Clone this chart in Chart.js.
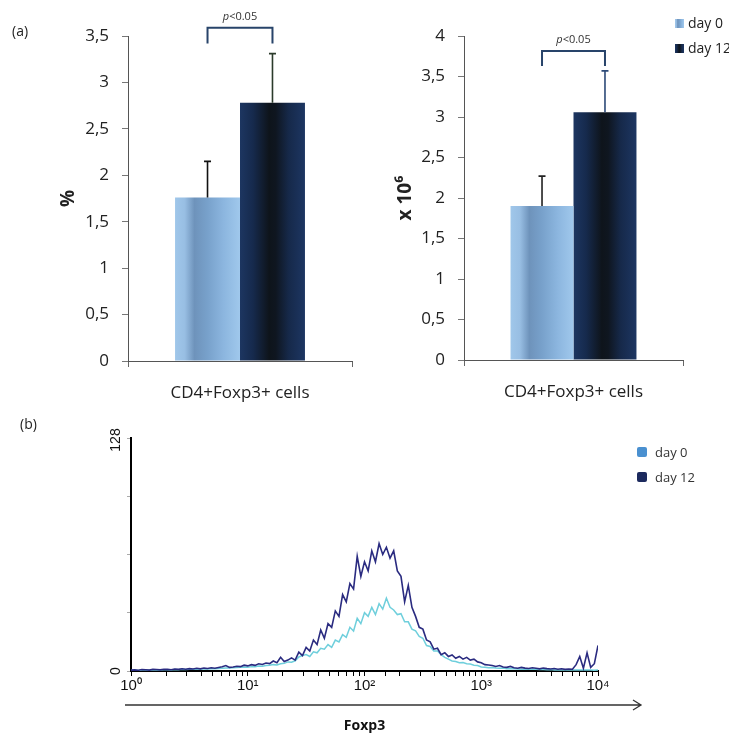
<!DOCTYPE html>
<html>
<head>
<meta charset="utf-8">
<script src="https://cdn.jsdelivr.net/npm/chart.js@4.4.1/dist/chart.umd.min.js"></script>
<style>
  body { margin: 0; background: #fff; }
  #wrap { position: relative; width: 729px; height: 733px; overflow: hidden; background: #fff; }
  canvas { position: absolute; }
</style>
</head>
<body>
<div id="wrap">
  <canvas id="pct" width="360" height="410" style="left:0;top:0"></canvas>
  <canvas id="abs" width="369" height="410" style="left:360px;top:0"></canvas>
  <canvas id="hist" width="729" height="333" style="left:0;top:400px"></canvas>
</div>
<script>
const groups = ["day 0", "day 12"];
const category = ["CD4+Foxp3+ cells"];

// (a) left panel: % Foxp3+ among CD4+
const pctMean = [1.76, 2.78];
const pctErr = [0.39, 0.53];
const pctTickLabels = ["0", "0,5", "1", "1,5", "2", "2,5", "3", "3,5"];
const pctBracket = [3.59, 3.42]; // top, leg end

// (a) right panel: absolute number, x 10^6
const absMean = [1.9, 3.06];
const absErr = [0.37, 0.51];
const absTickLabels = ["0", "0,5", "1", "1,5", "2", "2,5", "3", "3,5", "4"];
const absBracket = [3.815, 3.63];

// (b) Foxp3 histogram, 32 bins per decade from 10^0 to 10^4
const decadeLabels = ["10\u2070", "10\u00b9", "10\u00b2", "10\u00b3", "10\u2074"];
const day12Counts = [
  0.5,0.6,0.4,0.8,0.7,0.5,0.9,0.8,0.6,1.0,0.9,0.7,1.1,0.9,1.2,1.0,
  1.3,1.1,1.5,1.2,1.6,1.4,1.8,1.5,1.9,2.3,3.0,2.0,2.2,2.6,2.4,3.2,
  2.8,3.5,3.1,4.0,3.6,4.4,4.1,5.5,4.6,7.5,5.2,6.0,7.2,6.0,10.4,8.5,
  13,11,17,14.5,22.5,18,26,24,33,30,42,38,48,45,63,52,
  60,55,66,60,70,64,68,62,66,55,52,38,47,35,30,24,
  23,17,16,12,12.5,9,10,8,8.8,7,8,6.5,7.5,6,6.5,5,
  4.5,3.5,3.3,3,2.5,3,2.2,2,2.5,1.8,1.5,2,1.6,1.4,1.8,1.5,
  1.2,1.6,1.3,1.1,1.4,1.0,1.2,0.9,1.1,1.0,3.5,8,1.5,10,2,4,14
];
const day0Counts = [
  0.3,0.4,0.3,0.5,0.5,0.4,0.6,0.6,0.5,0.7,0.7,0.6,0.8,0.7,0.9,0.8,
  1.0,0.9,1.1,1.0,1.2,1.1,1.3,1.2,1.4,1.5,1.7,1.6,1.8,1.9,2.0,2.2,
  2.1,2.4,2.3,2.7,2.6,3.0,3.2,3.5,3.3,4.0,4.2,5.0,4.8,5.6,7.7,8.5,
  9,8,10.5,10,12.5,12,14.5,13,17,16,20,18.5,24,22,29,26,
  32,30,35,31,37,34,40,35,33.5,31,31.5,27,27,23,22,19,
  18,14,13.5,11,11,9,7.5,6.5,5.5,5.2,4.5,4.6,4,3.8,3.2,3,
  2.2,2.0,1.8,1.9,1.6,1.5,1.6,1.3,1.2,1.3,1.1,1.0,1.1,0.9,0.9,1.0,
  0.8,0.8,0.7,0.8,0.6,0.7,0.6,0.6,0.5,0.6,0.5,0.5,0.6,0.5,0.5,0.4,0.5
];

const FONT = "'Open Sans', sans-serif";
Chart.defaults.font.family = FONT;
Chart.defaults.color = "#222";

const lightStops = [[0, "#a0c7ea"], [0.15, "#98bee3"], [0.3, "#6e93bb"], [0.5, "#78a1cb"], [0.75, "#8cb6df"], [1, "#a0c8ec"]];
const darkStops = [[0, "#1d3661"], [0.2, "#162a4d"], [0.45, "#0e141b"], [0.55, "#0f1620"], [0.75, "#16294a"], [1, "#1d3662"]];

function gradient(ctx, left, right, stops) {
  const g = ctx.createLinearGradient(left, 0, right, 0);
  stops.forEach(([o, c]) => g.addColorStop(o, c));
  return g;
}

function barFill(stops, catPct) {
  return (c) => {
    const chart = c.chart;
    const xs = chart.scales.x;
    if (!chart.chartArea || !xs) return stops[2][1];
    const center = xs.getPixelForValue(c.dataIndex);
    const half = (xs.width / category.length) * catPct / 2;
    const left = c.datasetIndex === 0 ? center - half : center;
    return gradient(chart.ctx, left, left + half, stops);
  };
}

function drawPLabel(ctx, cx, y) {
  ctx.save();
  ctx.fillStyle = "#333";
  ctx.textBaseline = "middle";
  ctx.font = "italic 11px " + FONT;
  const wp = ctx.measureText("p").width;
  ctx.font = "11px " + FONT;
  const wr = ctx.measureText("<0.05").width;
  const x0 = cx - (wp + wr) / 2;
  ctx.textAlign = "left";
  ctx.font = "italic 11px " + FONT;
  ctx.fillText("p", x0, y);
  ctx.font = "11px " + FONT;
  ctx.fillText("<0.05", x0 + wp, y);
  ctx.restore();
}

// error bars (upward only) + significance bracket
function barExtras(err, errColors, bracket) {
  return {
    id: "barExtras",
    afterDatasetsDraw(chart) {
      const { ctx, scales: { y } } = chart;
      const centers = [];
      chart.data.datasets.forEach((ds, i) => {
        const el = chart.getDatasetMeta(i).data[0];
        centers.push(el.x);
        const top = y.getPixelForValue(ds.data[0] + err[i]);
        ctx.save();
        ctx.strokeStyle = errColors[i];
        ctx.lineWidth = 1.6;
        ctx.beginPath();
        ctx.moveTo(el.x, el.y);
        ctx.lineTo(el.x, top);
        ctx.moveTo(el.x - 3.5, top);
        ctx.lineTo(el.x + 3.5, top);
        ctx.stroke();
        ctx.restore();
      });
      const bt = y.getPixelForValue(bracket[0]);
      const bb = y.getPixelForValue(bracket[1]);
      ctx.save();
      ctx.strokeStyle = "#28446a";
      ctx.lineWidth = 2;
      ctx.beginPath();
      ctx.moveTo(centers[0], bb);
      ctx.lineTo(centers[0], bt);
      ctx.lineTo(centers[1], bt);
      ctx.lineTo(centers[1], bb);
      ctx.stroke();
      ctx.restore();
      drawPLabel(ctx, (centers[0] + centers[1]) / 2, bt - 11);
    }
  };
}

function barChart(id, o) {
  return new Chart(document.getElementById(id), {
    type: "bar",
    data: {
      labels: category,
      datasets: groups.map((g, i) => ({
        label: g,
        data: [o.mean[i]],
        backgroundColor: barFill(i === 0 ? lightStops : darkStops, o.catPct),
        borderWidth: 0,
        categoryPercentage: o.catPct,
        barPercentage: 1
      }))
    },
    options: {
      responsive: false,
      animation: false,
      devicePixelRatio: 1,
      layout: { padding: { top: 36, right: o.padRight, left: 0, bottom: 0 } },
      plugins: { legend: { display: false }, tooltip: { enabled: false } },
      scales: {
        x: {
          grid: { drawOnChartArea: false, tickLength: 6, color: "#666" },
          border: { color: "#555" },
          ticks: { font: { size: 17 }, color: "#222", padding: 16 },
          afterFit: (s) => { s.height = o.xHeight; }
        },
        y: {
          min: 0,
          max: o.max,
          grid: { drawOnChartArea: false, tickLength: 6, color: "#777" },
          border: { color: "#555" },
          ticks: {
            stepSize: 0.5,
            padding: 13,
            font: { size: 17 },
            color: "#222",
            callback: (v, i) => o.tickLabels[i]
          },
          title: {
            display: true,
            text: o.title,
            font: { size: 19, weight: "bold" },
            color: "#222",
            padding: { top: o.titlePad, bottom: 0 }
          },
          afterFit: (s) => { s.width = o.yWidth; }
        }
      }
    },
    plugins: [barExtras(o.err, o.errColors, o.bracket), o.extra]
  });
}

barChart("pct", {
  mean: pctMean, err: pctErr, bracket: pctBracket,
  tickLabels: pctTickLabels, max: 3.5, title: "%",
  catPct: 0.58, padRight: 8, xHeight: 49, yWidth: 128, titlePad: 57,
  errColors: ["#111", "#2b3b2b"],
  extra: {
    id: "panelA",
    afterDraw(chart) {
      const ctx = chart.ctx;
      ctx.save();
      ctx.font = "14px " + FONT;
      ctx.fillStyle = "#222";
      ctx.textBaseline = "middle";
      ctx.fillText("(a)", 12, 32);
      ctx.restore();
    }
  }
});

barChart("abs", {
  mean: absMean, err: absErr, bracket: absBracket,
  tickLabels: absTickLabels, max: 4, title: "x 10\u2076",
  catPct: 0.575, padRight: 46, xHeight: 50, yWidth: 104, titlePad: 34,
  errColors: ["#222", "#2d4a78"],
  extra: {
    id: "legendA",
    afterDraw(chart) {
      const ctx = chart.ctx;
      ctx.save();
      ctx.font = "14px " + FONT;
      ctx.fillStyle = "#222";
      ctx.textBaseline = "middle";
      [lightStops, darkStops].forEach((stops, i) => {
        const y = 19 + i * 25;
        ctx.fillStyle = gradient(ctx, 315, 324, stops);
        ctx.fillRect(315, y, 9, 9);
        ctx.fillStyle = "#222";
        ctx.fillText(groups[i], 328, y + 5);
      });
      ctx.restore();
    }
  }
});

// histogram
const binX = day12Counts.map((_, i) => 10 ** (i / 32));
const histColors = ["#4a90d0", "#1c2a5e"];

new Chart(document.getElementById("hist"), {
  type: "line",
  data: {
    datasets: [
      { label: "day 12", data: binX.map((x, i) => ({ x, y: day12Counts[i] })), borderColor: "#2a2b80", borderWidth: 1.6 },
      { label: "day 0", data: binX.map((x, i) => ({ x, y: day0Counts[i] })), borderColor: "#6fcfdc", borderWidth: 1.5 }
    ]
  },
  options: {
    responsive: false,
    animation: false,
    devicePixelRatio: 1,
    elements: { point: { radius: 0 }, line: { tension: 0 } },
    layout: { padding: { top: 38, right: 131, left: 0, bottom: 0 } },
    plugins: { legend: { display: false }, tooltip: { enabled: false } },
    scales: {
      x: {
        type: "logarithmic",
        min: 1,
        max: 10000,
        grid: { drawOnChartArea: false, tickLength: 5, color: "#000" },
        border: { color: "#000", width: 2 },
        ticks: {
          autoSkip: false,
          maxRotation: 0,
          padding: 1,
          font: { family: "'Liberation Sans', sans-serif", size: 15 },
          color: "#111",
          callback: (v) => {
            const e = Math.log10(v);
            return Math.abs(e - Math.round(e)) < 1e-6 ? decadeLabels[Math.round(e)] : "";
          }
        },
        title: {
          display: true,
          text: "Foxp3",
          font: { size: 14, weight: "bold", lineHeight: 1 },
          color: "#111",
          padding: { top: 0, bottom: 0 }
        },
        afterFit: (s) => { s.height = 62; }
      },
      y: {
        min: 0,
        max: 128,
        grid: { drawOnChartArea: false, tickLength: 4, color: "#aaa" },
        border: { color: "#000", width: 2 },
        ticks: { stepSize: 32, callback: () => "" },
        afterFit: (s) => { s.width = 131; }
      }
    }
  },
  plugins: [{
    id: "histDecor",
    afterDraw(chart) {
      const { ctx, scales: { x, y } } = chart;
      ctx.save();
      // y end labels, rotated
      ctx.font = "14px 'Liberation Sans', sans-serif";
      ctx.fillStyle = "#111";
      ctx.textAlign = "center";
      ctx.textBaseline = "middle";
      [0, 128].forEach((v) => {
        ctx.save();
        ctx.translate(x.left - 15, y.getPixelForValue(v) + (v === 128 ? 2 : 0));
        ctx.rotate(-Math.PI / 2);
        ctx.fillText(String(v), 0, 0);
        ctx.restore();
      });
      // arrow under axis
      const ay = 305;
      ctx.strokeStyle = "#333";
      ctx.lineWidth = 1.3;
      ctx.beginPath();
      ctx.moveTo(x.left - 6, ay);
      ctx.lineTo(641, ay);
      ctx.moveTo(633, ay - 5);
      ctx.lineTo(641, ay);
      ctx.lineTo(633, ay + 5);
      ctx.stroke();
      // panel tag
      ctx.textAlign = "left";
      ctx.font = "14px " + FONT;
      ctx.fillStyle = "#222";
      ctx.fillText("(b)", 20, 25);
      // legend
      ctx.font = "13px " + FONT;
      ["day 0", "day 12"].forEach((t, i) => {
        const ly = 47 + i * 25;
        ctx.fillStyle = histColors[i];
        ctx.beginPath();
        ctx.roundRect(637, ly, 10, 10, 2);
        ctx.fill();
        ctx.fillStyle = "#333";
        ctx.fillText(t, 655, ly + 6);
      });
      ctx.restore();
    }
  }]
});
</script>
</body>
</html>
